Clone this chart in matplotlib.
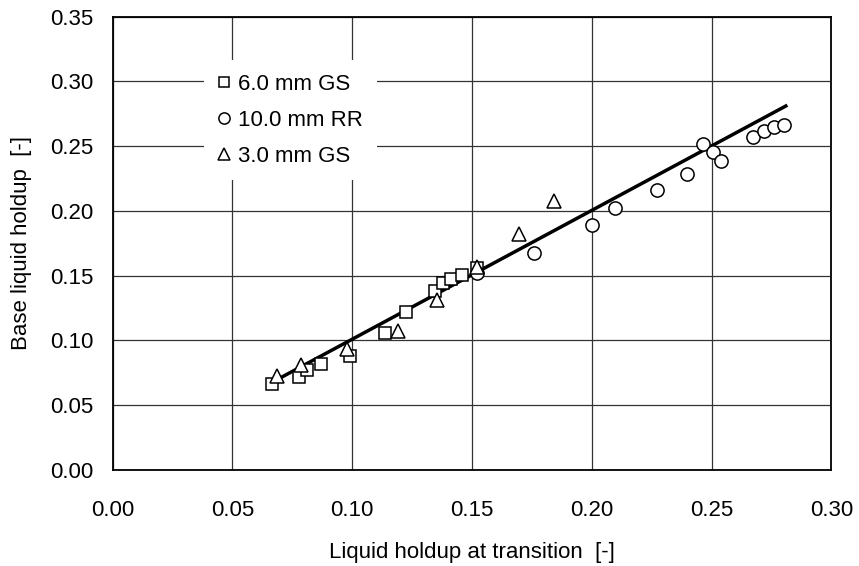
import matplotlib
matplotlib.use("Agg")
import matplotlib.pyplot as plt

plt.rcParams['font.family'] = ['Liberation Sans', 'DejaVu Sans']

# 6.0 mm GS (squares)
gs6_x = [0.0666, 0.0779, 0.0810, 0.0870, 0.0992, 0.1138, 0.1224, 0.1346, 0.1380, 0.1413, 0.1457, 0.1519]
gs6_y = [0.0662, 0.0719, 0.0770, 0.0820, 0.0879, 0.1059, 0.1219, 0.1383, 0.1445, 0.1471, 0.1507, 0.1559]

# 10.0 mm RR (circles)
rr10_x = [0.1519, 0.1758, 0.2000, 0.2097, 0.2272, 0.2397, 0.2464, 0.2506, 0.2539, 0.2673, 0.2717, 0.2759, 0.2801]
rr10_y = [0.1518, 0.1677, 0.1889, 0.2022, 0.2162, 0.2285, 0.2517, 0.2455, 0.2383, 0.2569, 0.2615, 0.2651, 0.2666]

# 3.0 mm GS (triangles)
gs3_x = [0.0687, 0.0787, 0.0979, 0.1190, 0.1354, 0.1521, 0.1697, 0.1841]
gs3_y = [0.0724, 0.0811, 0.0935, 0.1070, 0.1311, 0.1569, 0.1821, 0.2074]

# fitted line
fit_x = [0.067, 0.281]
fit_y = [0.068, 0.281]

fig = plt.figure(figsize=(8.59, 5.66), dpi=100)
ax = fig.add_axes([0.1312, 0.1701, 0.8366, 0.8004])

ax.plot(fit_x, fit_y, color='black', lw=2.5, zorder=2)

mk = dict(linestyle='none', mfc='white', mec='black', mew=1.1, zorder=3)
ax.plot(gs6_x, gs6_y, marker='s', ms=9, label='6.0 mm GS', **mk)
ax.plot(rr10_x, rr10_y, marker='o', ms=9.5, label='10.0 mm RR', **mk)
ax.plot(gs3_x, gs3_y, marker='^', ms=10, label='3.0 mm GS', **mk)

ax.set_xlim(0, 0.30)
ax.set_ylim(0, 0.35)
ax.set_xticks([0.00, 0.05, 0.10, 0.15, 0.20, 0.25, 0.30])
ax.set_yticks([0.00, 0.05, 0.10, 0.15, 0.20, 0.25, 0.30, 0.35])
ax.set_xticklabels([f"{v:.2f}" for v in ax.get_xticks()])
ax.set_yticklabels([f"{v:.2f}" for v in ax.get_yticks()])
ax.tick_params(length=0, labelsize=16)
ax.tick_params(axis='y', pad=14)
ax.tick_params(axis='x', pad=22)
ax.grid(True, color='#333333', lw=0.9)
ax.set_axisbelow(True)
for s in ax.spines.values():
    s.set_linewidth(1.3)

ax.set_xlabel("Liquid holdup at transition  [-]", fontsize=16, labelpad=15)
ax.set_ylabel("Base liquid holdup  [-]", fontsize=16, labelpad=13)

leg = ax.legend(loc='upper left', bbox_to_anchor=(0.127, 0.904), fontsize=16,
                frameon=True, fancybox=False, framealpha=1, edgecolor='white',
                markerscale=0.85, handlelength=0.6, handletextpad=0.35,
                labelspacing=0.68, borderpad=0.6, borderaxespad=0)
leg.get_frame().set_linewidth(0)

fig.savefig("out.png", dpi=100)
